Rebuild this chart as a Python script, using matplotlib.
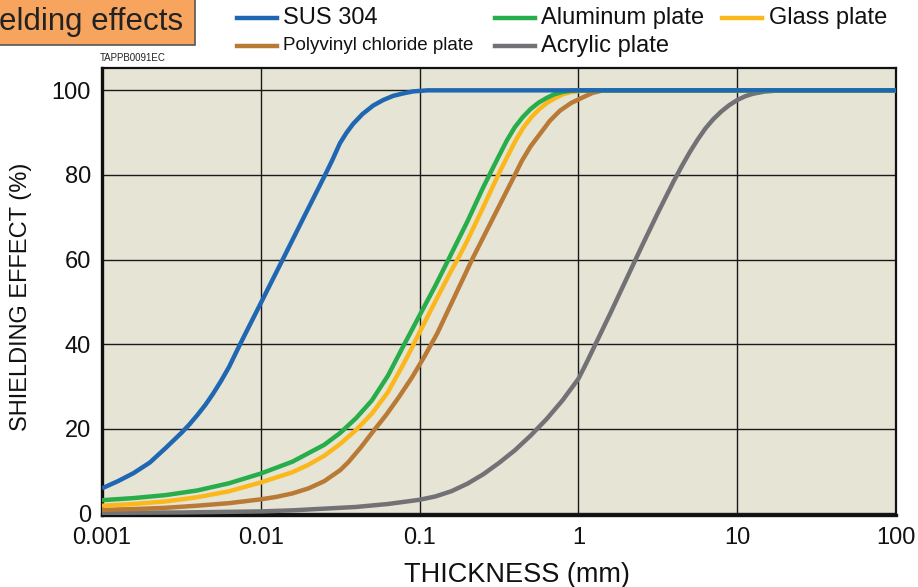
import matplotlib
matplotlib.use("Agg")
import matplotlib.pyplot as plt
from matplotlib.lines import Line2D
from matplotlib.patches import Rectangle
from matplotlib.ticker import FixedLocator, FixedFormatter, NullLocator

plt.rcParams['font.family'] = ['Liberation Sans', 'DejaVu Sans']

# ---- data (thickness in mm, shielding effect in %) ----
sus_x = [0.001, 0.00126, 0.00158, 0.002, 0.00251, 0.00316, 0.00355, 0.00398, 0.00447, 0.00501, 0.00562,
         0.00631, 0.00741, 0.01, 0.01374, 0.0186, 0.0254, 0.0282, 0.0315, 0.0347, 0.0382, 0.0437, 0.051,
         0.0589, 0.0682, 0.0794, 0.0912, 0.112, 100]
sus_y = [5.9, 7.6, 9.5, 12.0, 15.4, 19.0, 21.0, 23.2, 25.6, 28.3, 31.3,
         34.6, 40.0, 49.7, 60.0, 69.9, 80.0, 83.5, 87.5, 90.0, 92.1, 94.4, 96.4,
         97.7, 98.7, 99.3, 99.75, 100, 100]

alu_x = [0.001, 0.00158, 0.00251, 0.00398, 0.00631, 0.01, 0.0158, 0.0251, 0.0316, 0.0398, 0.0501,
         0.0631, 0.0794, 0.1, 0.126, 0.151, 0.2, 0.251, 0.282, 0.316, 0.355, 0.398, 0.447, 0.501,
         0.562, 0.631, 0.708, 0.794, 0.933, 100]
alu_y = [3.1, 3.6, 4.3, 5.4, 7.1, 9.4, 12.2, 16.2, 19.0, 22.5, 26.7,
         32.5, 39.7, 46.8, 53.9, 59.8, 69.0, 77.0, 80.8, 84.5, 88.2, 91.3, 93.7, 95.6,
         97.1, 98.2, 99.1, 99.6, 100, 100]

gls_x = [0.001, 0.00158, 0.00251, 0.00398, 0.00631, 0.01, 0.0158, 0.02, 0.0251, 0.0316, 0.0398, 0.0501,
         0.0631, 0.0794, 0.0891, 0.1, 0.126, 0.158, 0.175, 0.2, 0.251, 0.32, 0.359, 0.403, 0.452,
         0.507, 0.569, 0.638, 0.716, 0.804, 0.902, 1.122, 100]
gls_y = [1.8, 2.2, 2.8, 3.8, 5.2, 7.3, 9.7, 11.5, 13.6, 16.4, 19.7, 23.6,
         28.6, 35.4, 39.0, 42.8, 50.2, 57.3, 60.3, 64.5, 72.3, 80.8, 84.5, 88.2, 91.3,
         93.7, 95.6, 97.1, 98.2, 99.1, 99.6, 100, 100]

pvc_x = [0.001, 0.00158, 0.00251, 0.00398, 0.00631, 0.01, 0.0126, 0.0158, 0.02, 0.0251, 0.0316,
         0.0356, 0.0427, 0.0513, 0.0617, 0.0741, 0.0891, 0.107, 0.129, 0.214, 0.398, 0.44, 0.501,
         0.573, 0.661, 0.766, 0.899, 1.074, 1.23, 1.435, 100]
pvc_y = [0.8, 1.0, 1.3, 1.8, 2.4, 3.3, 3.9, 4.7, 5.9, 7.6, 10.2,
         12.1, 15.6, 19.5, 23.3, 27.5, 32.0, 37.0, 42.5, 60.0, 80.0, 83.3, 86.8,
         89.7, 92.8, 95.2, 97.0, 98.4, 99.4, 100, 100]

acr_x = [0.001, 0.00316, 0.01, 0.0158, 0.0251, 0.0398, 0.0631, 0.1, 0.126, 0.158, 0.2, 0.251, 0.316,
         0.398, 0.501, 0.631, 0.794, 1.0, 1.122, 1.259, 1.585, 1.995, 2.512, 3.162, 3.981, 4.467,
         5.012, 5.623, 6.31, 7.079, 7.943, 8.913, 10.0, 11.22, 12.59, 14.79, 18.62, 100]
acr_y = [0.1, 0.2, 0.45, 0.7, 1.1, 1.5, 2.2, 3.2, 4.0, 5.2, 7.0, 9.2, 11.9,
         14.9, 18.4, 22.3, 26.7, 31.8, 35.5, 39.4, 47.2, 55.2, 63.2, 71.0, 78.5, 82.0,
         85.3, 88.3, 91.0, 93.2, 95.0, 96.5, 97.7, 98.6, 99.2, 99.7, 100, 100]

xticks = [0.001, 0.01, 0.1, 1, 10, 100]
xtick_labels = ["0.001", "0.01", "0.1", "1", "10", "100"]
yticks = [0, 20, 40, 60, 80, 100]
ytick_labels = ["0", "20", "40", "60", "80", "100"]

series = [
    ("Acrylic plate", acr_x, acr_y, "#727276"),
    ("Polyvinyl chloride plate", pvc_x, pvc_y, "#b97a35"),
    ("Glass plate", gls_x, gls_y, "#fbb81c"),
    ("Aluminum plate", alu_x, alu_y, "#27ad4a"),
    ("SUS 304", sus_x, sus_y, "#1f67b1"),
]

W, H = 918, 587
fig = plt.figure(figsize=(W / 100, H / 100), dpi=100)
ax = fig.add_axes([102 / W, 1 - 515 / H, (896 - 102) / W, (515 - 67.5) / H])
ax.set_facecolor("#e6e4d5")

for name, xs, ys, c in series:
    ax.plot(xs, ys, color=c, lw=3.2, solid_capstyle='butt', solid_joinstyle='round', zorder=3)

ax.set_xscale('log')
ax.set_xlim(0.001, 100)
ax.set_ylim(-0.4, 105.4)
ax.xaxis.set_major_locator(FixedLocator(xticks))
ax.xaxis.set_major_formatter(FixedFormatter(xtick_labels))
ax.xaxis.set_minor_locator(NullLocator())
ax.yaxis.set_major_locator(FixedLocator(yticks))
ax.yaxis.set_major_formatter(FixedFormatter(ytick_labels))
ax.tick_params(axis='both', length=0, labelsize=17, colors='#111111')
ax.tick_params(axis='x', pad=9)
ax.tick_params(axis='y', pad=8)
ax.grid(True, color='#1a1a1a', lw=1.0, zorder=1)
ax.set_axisbelow(True)
for s in ['left', 'bottom']:
    ax.spines[s].set_linewidth(2.4)
for s in ['top', 'right']:
    ax.spines[s].set_linewidth(1.6)
for s in ax.spines.values():
    s.set_color('#111111')

fig.text(517 / W, 1 - 575 / H, "THICKNESS (mm)", fontsize=19.5, color='#111111', ha='center', va='center')
fig.text(21 / W, 1 - 297 / H, "SHIELDING EFFECT (%)", fontsize=17, color='#111111', ha='center', va='center',
         rotation=90)

# title box (cropped at the left)
fig.patches.append(Rectangle((-10 / W, 1 - 45 / H), 205 / W, 60 / H, transform=fig.transFigure,
                             facecolor="#f7a55e", edgecolor="#555555", lw=1.2, zorder=0))
fig.text(-1 / W, 1 - 22 / H, "elding effects", fontsize=22.5, color='#222222', va='center', ha='left')
fig.text(100 / W, 1 - 58 / H, "TAPPB0091EC", fontsize=7, color='#222222', va='center', ha='left')

# legend (manual layout)
legend_pos = {
    "SUS 304": (237, 18, 283),
    "Polyvinyl chloride plate": (237, 46, 283),
    "Aluminum plate": (495, 18, 541),
    "Glass plate": (722, 18, 769),
    "Acrylic plate": (495, 46, 541),
}
for name, xs, ys, c in series:
    lx, ly, tx = legend_pos[name]
    fig.add_artist(Line2D([lx / W, (lx + 40) / W], [1 - ly / H, 1 - ly / H], color=c, lw=3.2,
                          transform=fig.transFigure))
    fs = 13.5 if name == "Polyvinyl chloride plate" else 17
    fig.text(tx / W, 1 - ly / H, name, fontsize=fs, color='#111111', va='center', ha='left')

fig.savefig("out.png", dpi=100)
